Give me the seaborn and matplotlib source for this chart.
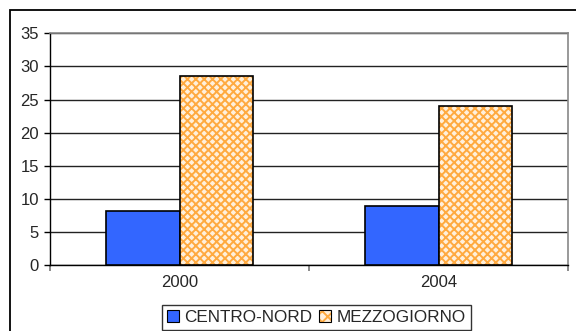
import matplotlib
matplotlib.use("Agg")
import matplotlib.pyplot as plt
from matplotlib.colors import to_rgba
from matplotlib.patches import Rectangle
import seaborn as sns
import pandas as pd

years = ["2000", "2004"]
regions = ["CENTRO-NORD", "MEZZOGIORNO"]
centro_nord = [8.2, 9.0]
mezzogiorno = [28.5, 24.0]
y_ticks = [0, 5, 10, 15, 20, 25, 30, 35]

df = pd.DataFrame({
    "anno": years * 2,
    "area": [regions[0]] * 2 + [regions[1]] * 2,
    "valore": centro_nord + mezzogiorno,
})

sns.set_theme(style="white")
plt.rcParams["font.family"] = ["Liberation Sans", "DejaVu Sans"]
plt.rcParams["hatch.linewidth"] = 1.4

fig = plt.figure(figsize=(5.76, 3.31), dpi=100)
ax = fig.add_axes([50 / 576, 1 - 265.3 / 331, 518 / 576, (265.3 - 33.3) / 331])

blue = "#3366FF"
orange_face = "#FFF0DC"
orange_hatch = "#FFAA40"

sns.barplot(data=df, x="anno", y="valore", hue="area", order=years,
            hue_order=regions, palette=[blue, orange_face], saturation=1,
            width=0.57, edgecolor="black", linewidth=1.2, legend=False,
            ax=ax, zorder=3)

# cross-hatch on the MEZZOGIORNO bars
for p in ax.containers[1]:
    p.set_hatch("xxxx")
    p._hatch_color = to_rgba(orange_hatch)
    p.stale = True

ax.set_ylim(0, 35)
ax.set_xlim(-0.5, 1.5)
ax.set_yticks(y_ticks)
ax.yaxis.grid(True, color="#222222", linewidth=1)
ax.set_axisbelow(True)
ax.set_xlabel("")
ax.set_ylabel("")

ax.tick_params(axis="y", which="major", direction="out", length=4.5, width=1,
               color="black", labelsize=12, pad=3.5, left=True)
ax.tick_params(axis="x", which="major", length=0, labelsize=12, pad=7)
ax.set_xticks([-0.5, 0.5, 1.5], minor=True)
ax.tick_params(axis="x", which="minor", direction="out", length=4, width=1.2,
               color="#777777", bottom=True)

for side in ("left", "bottom"):
    ax.spines[side].set_color("black")
    ax.spines[side].set_linewidth(1)
for side in ("top", "right"):
    ax.spines[side].set_color("#888888")
    ax.spines[side].set_linewidth(1.2)
    ax.spines[side].set_visible(True)

# legend
handles = [
    Rectangle((0, 0), 1, 1, facecolor=blue, edgecolor="black", linewidth=0.8),
    Rectangle((0, 0), 1, 1, facecolor=orange_face, edgecolor="black",
              linewidth=0.8, hatch="xxx"),
]
handles[1]._hatch_color = to_rgba(orange_hatch)
leg = fig.legend(handles, regions, loc="upper left",
                 bbox_to_anchor=(162 / 576, 1 - 305 / 331),
                 bbox_transform=fig.transFigure, ncol=2, fontsize=12.3,
                 frameon=True, fancybox=False, borderaxespad=0,
                 handlelength=0.7, handleheight=0.7, handletextpad=0.3,
                 columnspacing=0.4, borderpad=0.3)
leg.get_frame().set_edgecolor("black")
leg.get_frame().set_linewidth(1)

# outer frame of the chart area
fig.add_artist(Rectangle((10 / 576, -0.2), 1.2, 0.2 + 1 - 9.5 / 331,
                         transform=fig.transFigure, fill=False,
                         edgecolor="black", linewidth=1.3))

fig.savefig("out.png", dpi=100)
